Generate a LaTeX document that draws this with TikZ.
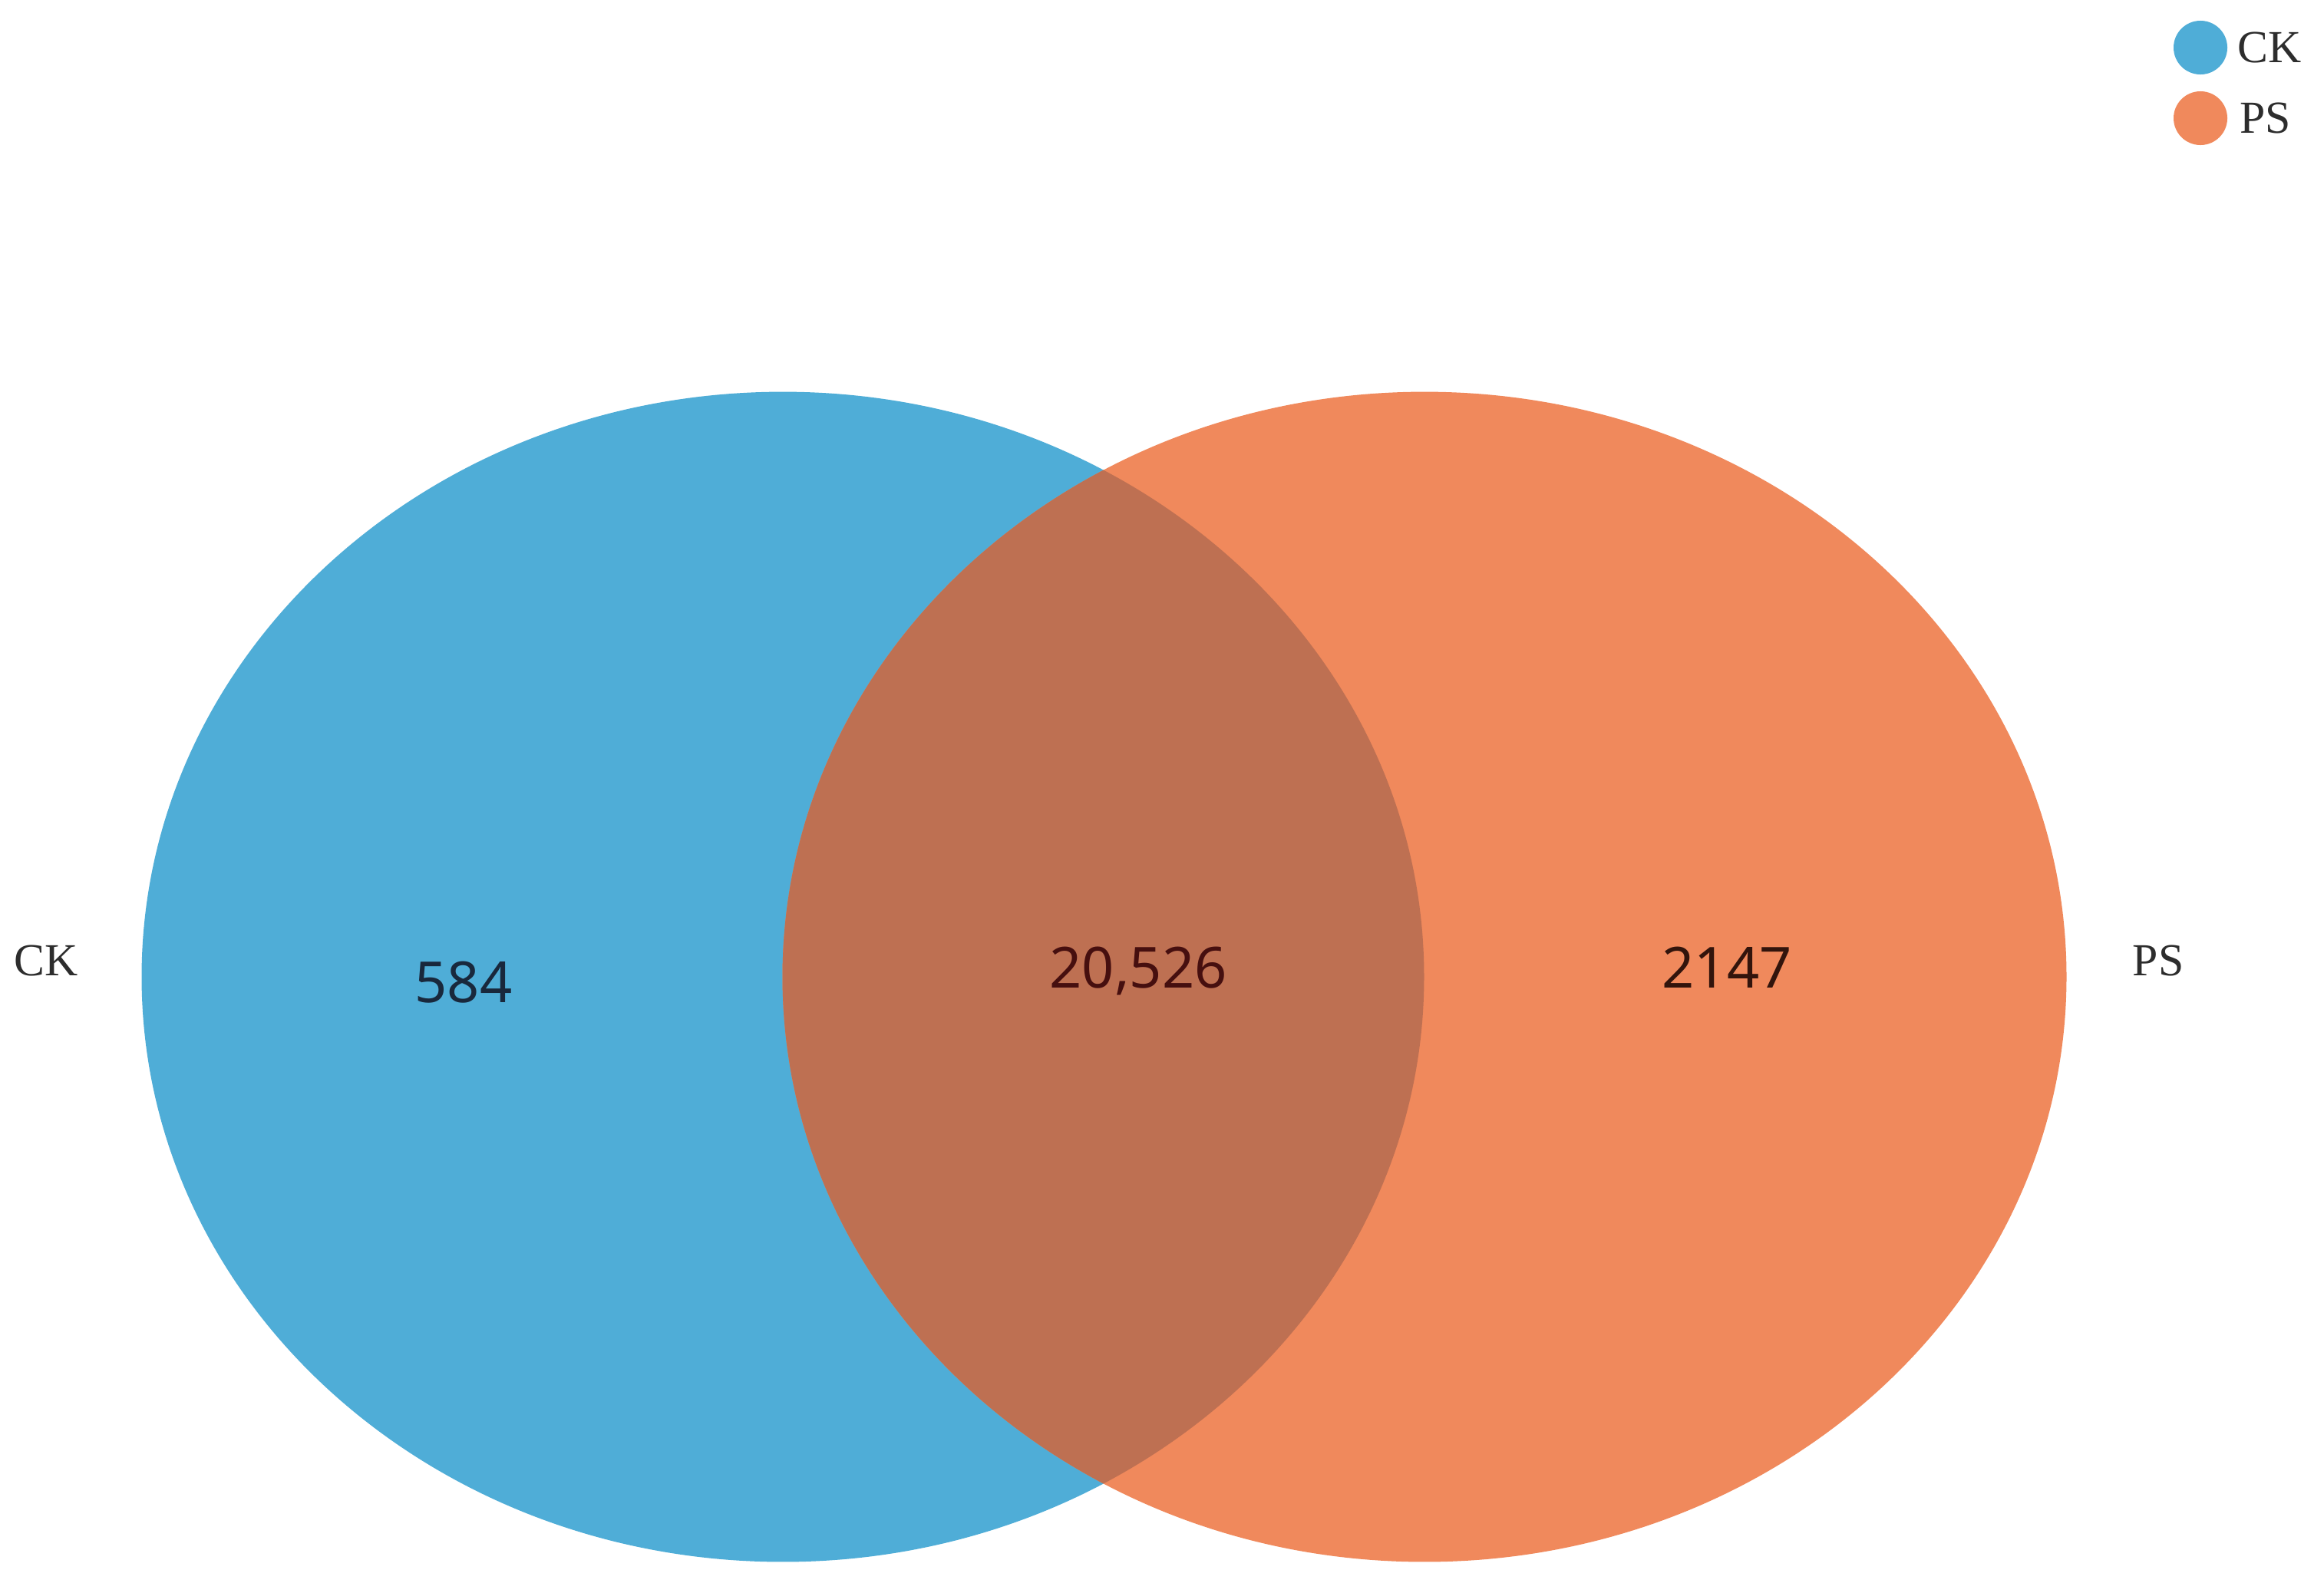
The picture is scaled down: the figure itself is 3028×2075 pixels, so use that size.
\documentclass[tikz,border=0pt]{standalone}
\usepackage{fontspec}
\setmainfont{Liberation Serif}
\newfontfamily\numfont{Noto Sans}
\definecolor{ckblue}{RGB}{79,173,215}
\definecolor{psorange}{RGB}{240,137,92}
\definecolor{overlap}{RGB}{190,112,82}
\definecolor{labelgray}{RGB}{45,45,45}
\begin{document}
\begin{tikzpicture}[x=0.01cm,y=-0.01cm,
  setlabel/.style={font=\fontsize{17}{17}\selectfont, text=labelgray, inner sep=0pt},
  countlabel/.style={font=\numfont\fontsize{21}{21}\selectfont, inner sep=0pt}]
\useasboundingbox (0,0) rectangle (3028,2075);
\fill[white] (0,0) rectangle (3028,2075);
% sets
\fill[ckblue] (1020,1273) ellipse [x radius=8.35cm, y radius=7.62cm];
\fill[psorange] (1856,1273) ellipse [x radius=8.36cm, y radius=7.62cm];
\begin{scope}
  \clip (1020,1273) ellipse [x radius=8.35cm, y radius=7.62cm];
  \fill[overlap] (1856,1273) ellipse [x radius=8.36cm, y radius=7.62cm];
\end{scope}
% counts
\node[countlabel, text={rgb,255:red,25;green,40;blue,60}] (n584) at (604,1280) {584};
\node[countlabel, text={rgb,255:red,70;green,15;blue,15}] (n20526) at (1483,1265) {20,526};
\node[countlabel, text={rgb,255:red,50;green,20;blue,12}] (n2147) at (2250,1261) {2147};
% set labels
\node[setlabel] (ck) at (60,1252) {CK};
\node[setlabel] (ps) at (2812,1252) {PS};
% legend
\fill[ckblue] (2867,62) circle [radius=0.35cm];
\fill[psorange] (2867,154) circle [radius=0.35cm];
\node[setlabel, anchor=west] (legck) at (2915,62) {CK};
\node[setlabel, anchor=west] (legps) at (2918,154) {PS};
\end{tikzpicture}
\end{document}
